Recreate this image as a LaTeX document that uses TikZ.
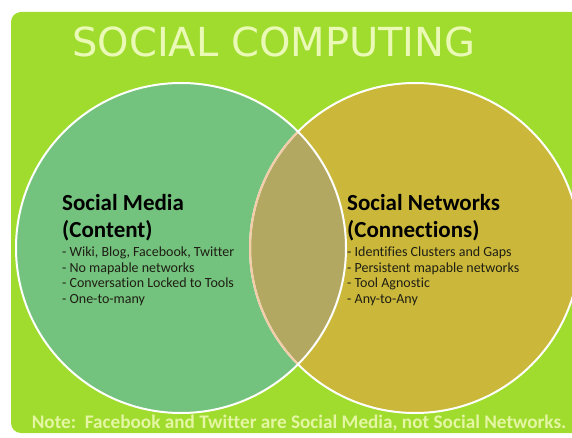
\documentclass[tikz,border=0pt]{standalone}
\usepackage{fontspec}
\setmainfont{Carlito}[Ligatures=NoCommon]
\newfontfamily\titlefont{DejaVu Sans}
\definecolor{bggreen}{RGB}{160,220,46}
\definecolor{leftfill}{RGB}{115,194,125}
\definecolor{rightfill}{RGB}{203,184,58}
\definecolor{lensfill}{RGB}{179,168,98}
\definecolor{lensedge}{RGB}{244,204,168}
\definecolor{titlecol}{RGB}{234,250,182}
\definecolor{notecol}{RGB}{228,246,164}
\definecolor{bodytext}{RGB}{30,30,20}
\tikzset{
  venn/.style={circle, inner sep=0pt, outer sep=0pt, minimum size=330pt},
  headtext/.style={anchor=base west, inner sep=0pt, font=\fontsize{23}{26}\selectfont\bfseries, text=black},
  itemtext/.style={anchor=base west, inner sep=0pt, font=\fontsize{14}{16}\selectfont, text=bodytext},
  rim/.style={line width=2pt, draw=white}
}
\begin{document}
\begin{tikzpicture}[x=1pt,y=-1pt]
\useasboundingbox (0,0) rectangle (572,438);
\fill[bggreen, rounded corners=10pt] (11,12) rectangle (600,433);
% circles
\node[venn, fill=leftfill] (L) at (181,248) {};
\node[venn, fill=rightfill] (R) at (415,248) {};
\begin{scope}
  \clip (L.center) circle[radius=165pt];
  \fill[lensfill] (R.center) circle[radius=165pt];
\end{scope}
\draw[rim] (R.center) circle[radius=165pt];
\begin{scope}
  \clip (L.center) circle[radius=165pt];
  \draw[rim, draw=lensedge] (R.center) circle[radius=165pt];
\end{scope}
\draw[rim] (L.center) circle[radius=165pt];
% title
\node[anchor=base, inner sep=0pt, text=titlecol, font=\titlefont\fontsize{40}{40}\selectfont] (title) at (274,57) {SOCIAL COMPUTING};
% left text
\node[headtext] (lh1) at (62,210.5) {Social Media};
\node[headtext] (lh2) at (62,237) {(Content)};
\node[itemtext] (l1) at (62,256) {- Wiki, Blog, Facebook, Twitter};
\node[itemtext] (l2) at (62,272) {- No mapable networks};
\node[itemtext] (l3) at (62,287.5) {- Conversation Locked to Tools};
\node[itemtext] (l4) at (62,303) {- One-to-many};
% right text
\node[headtext] (rh1) at (347,210.5) {Social Networks};
\node[headtext] (rh2) at (347,237) {(Connections)};
\node[itemtext] (r1) at (347,256) {- Identifies Clusters and Gaps};
\node[itemtext] (r2) at (347,272) {- Persistent mapable networks};
\node[itemtext] (r3) at (347,287.5) {- Tool Agnostic};
\node[itemtext] (r4) at (347,303) {- Any-to-Any};
% note
\node[anchor=base, inner sep=0pt, text=notecol, font=\fontsize{19.2}{22}\selectfont\bfseries] (note) at (299,428.5) {Note:\ \ Facebook and Twitter are Social Media, not Social Networks.};
\end{tikzpicture}
\end{document}
